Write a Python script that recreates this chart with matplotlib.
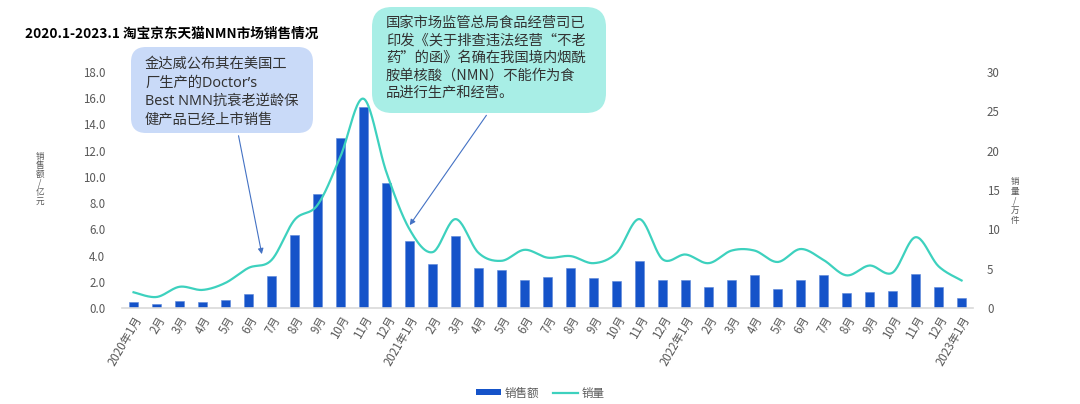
import numpy as np
import matplotlib
matplotlib.use("Agg")
import matplotlib.pyplot as plt
from matplotlib.patches import FancyBboxPatch, Patch
from matplotlib.lines import Line2D

plt.rcParams['font.family'] = ['Noto Sans CJK SC', 'DejaVu Sans']

# months 2020-01 .. 2023-01
months = ["2020年1月"] + [f"{m}月" for m in range(2, 13)] + \
         ["2021年1月"] + [f"{m}月" for m in range(2, 13)] + \
         ["2022年1月"] + [f"{m}月" for m in range(2, 13)] + \
         ["2023年1月"]

# 销售额 (亿元)
sales_value = [0.43, 0.28, 0.50, 0.43, 0.63, 1.06, 2.46, 5.57, 8.67, 12.97, 15.3, 9.55,
               5.09, 3.35, 5.50, 3.06, 2.92, 2.15, 2.36, 3.04, 2.28, 2.08, 3.55, 2.15,
               2.15, 1.60, 2.15, 2.51, 1.44, 2.15, 2.51, 1.17, 1.24, 1.32, 2.59, 1.60,
               0.76]

# 销量 (万件)
sales_volume = [2.0, 1.4, 2.7, 2.3, 3.2, 5.1, 6.1, 11.2, 13.1, 19.3, 26.6, 17.2,
                10.0, 7.1, 11.3, 7.0, 6.0, 7.4, 6.4, 6.6, 5.7, 7.0, 11.3, 6.2,
                6.8, 5.7, 7.3, 7.3, 5.85, 7.5, 6.1, 4.15, 5.4, 4.5, 9.0, 5.3,
                3.5]

note1 = "金达威公布其在美国工\n厂生产的Doctor’s\nBest NMN抗衰老逆龄保\n健产品已经上市销售"
note2 = ("国家市场监管总局食品经营司已\n印发《关于排查违法经营“不老\n药”的函》名确在我国境内烟酰\n"
         "胺单核酸（NMN）不能作为食\n品进行生产和经营。")

left_label = "销售额/亿元"
right_label = "销量/万件"

bar_color = '#1553C9'
line_color = '#3DD1BE'
tick_color = '#595959'


def catmull_rom(xs, ys, n=24):
    xs = np.asarray(xs, float)
    ys = np.asarray(ys, float)
    px = np.concatenate([[xs[0]], xs, [xs[-1]]])
    py = np.concatenate([[ys[0]], ys, [ys[-1]]])
    out_x, out_y = [], []
    t = np.linspace(0, 1, n, endpoint=False)
    for i in range(1, len(px) - 2):
        for arr, out in ((px, out_x), (py, out_y)):
            p0, p1, p2, p3 = arr[i - 1], arr[i], arr[i + 1], arr[i + 2]
            out.extend(0.5 * ((2 * p1) + (-p0 + p2) * t +
                              (2 * p0 - 5 * p1 + 4 * p2 - p3) * t ** 2 +
                              (-p0 + 3 * p1 - 3 * p2 + p3) * t ** 3))
    out_x.append(xs[-1])
    out_y.append(ys[-1])
    return np.array(out_x), np.array(out_y)


fig = plt.figure(figsize=(10.8, 4.04), dpi=100)
ax = fig.add_axes([0.113, 0.2376, 0.788, 0.5842])
ax2 = ax.twinx()

x = np.arange(len(months))
ax.bar(x, sales_value, width=0.4, color=bar_color, edgecolor='#5B86D9', linewidth=0.4)
sx, sy = catmull_rom(x, sales_volume)
ax2.plot(sx, sy, color=line_color, lw=1.6)

ax.set_xlim(-0.5, len(months) - 0.5)
ax.set_ylim(0, 18)
ax2.set_ylim(0, 30)
ax.set_yticks(np.arange(0, 18.1, 2))
ax.set_yticklabels([f"{v:.1f}" for v in np.arange(0, 18.1, 2)])
ax2.set_yticks(np.arange(0, 31, 5))

for a in (ax, ax2):
    for s in a.spines.values():
        s.set_visible(False)
    a.tick_params(length=0, colors=tick_color, labelsize=8.3)
ax.spines['bottom'].set_visible(True)
ax.spines['bottom'].set_color('#D9D9D9')
ax.spines['bottom'].set_linewidth(1.2)
ax.tick_params(axis='y', pad=12)
ax2.tick_params(axis='y', pad=10)

ax.set_xticks(x)
ax.set_xticklabels(months, rotation=60, ha='right', rotation_mode='anchor', fontsize=8.3)
ax.tick_params(axis='x', pad=4)

# stacked vertical axis titles
for i, ch in enumerate(left_label):
    fig.text(40 / 1080, 1 - (157 + i * 8.8) / 404, ch, ha='center', va='center',
             fontsize=6.2, color=tick_color)
for i, ch in enumerate(right_label):
    fig.text(1015 / 1080, 1 - (182 + i * 9.5) / 404, ch, ha='center', va='center',
             fontsize=6.2, color=tick_color)

fig.text(25 / 1080, 1 - 34 / 404, "2020.1-2023.1 淘宝京东天猫NMN市场销售情况",
         fontsize=9.8, fontweight='bold', ha='left', va='center', color='black')

# annotation boxes (inches, origin bottom-left)
tr = fig.dpi_scale_trans
fig.patches.append(FancyBboxPatch((1.31, 2.71), 1.82, 0.86, boxstyle="round,pad=0,rounding_size=0.15",
                                  transform=tr, facecolor='#C9DAF8', edgecolor='none', zorder=2))
fig.patches.append(FancyBboxPatch((3.72, 2.91), 2.34, 1.06, boxstyle="round,pad=0,rounding_size=0.2",
                                  transform=tr, facecolor='#A8EEE6', edgecolor='none', zorder=2))
fig.text(1.45, 3.47, note1, transform=tr, fontsize=10.3, color='#333333',
         ha='left', va='top', linespacing=1.32, zorder=3, family=['Noto Sans', 'Noto Sans CJK SC'])
fig.text(3.86, 3.88, note2, transform=tr, fontsize=10.3, color='#333333',
         ha='left', va='top', linespacing=1.32, zorder=3)

ax2.annotate('', xy=(5.6, 6.5), xycoords='data', xytext=(2.38, 2.71), textcoords=tr,
             arrowprops=dict(arrowstyle='-|>', color='#4472C4', lw=0.8, mutation_scale=8),
             annotation_clip=False)
ax2.annotate('', xy=(11.94, 10.25), xycoords='data', xytext=(4.88, 2.91), textcoords=tr,
             arrowprops=dict(arrowstyle='-|>', color='#4472C4', lw=0.8, mutation_scale=8),
             annotation_clip=False)

handles = [Patch(facecolor=bar_color, edgecolor='none', label='销售额'),
           Line2D([0], [0], color=line_color, lw=1.6, label='销量')]
fig.legend(handles=handles, loc='center', bbox_to_anchor=(0.5, 1 - 393 / 404), ncol=2,
           frameon=False, fontsize=8.3, labelcolor=tick_color, handlelength=2.2,
           handleheight=0.45, columnspacing=1.2, handletextpad=0.3)

fig.savefig('out.png', dpi=100, facecolor='white')
